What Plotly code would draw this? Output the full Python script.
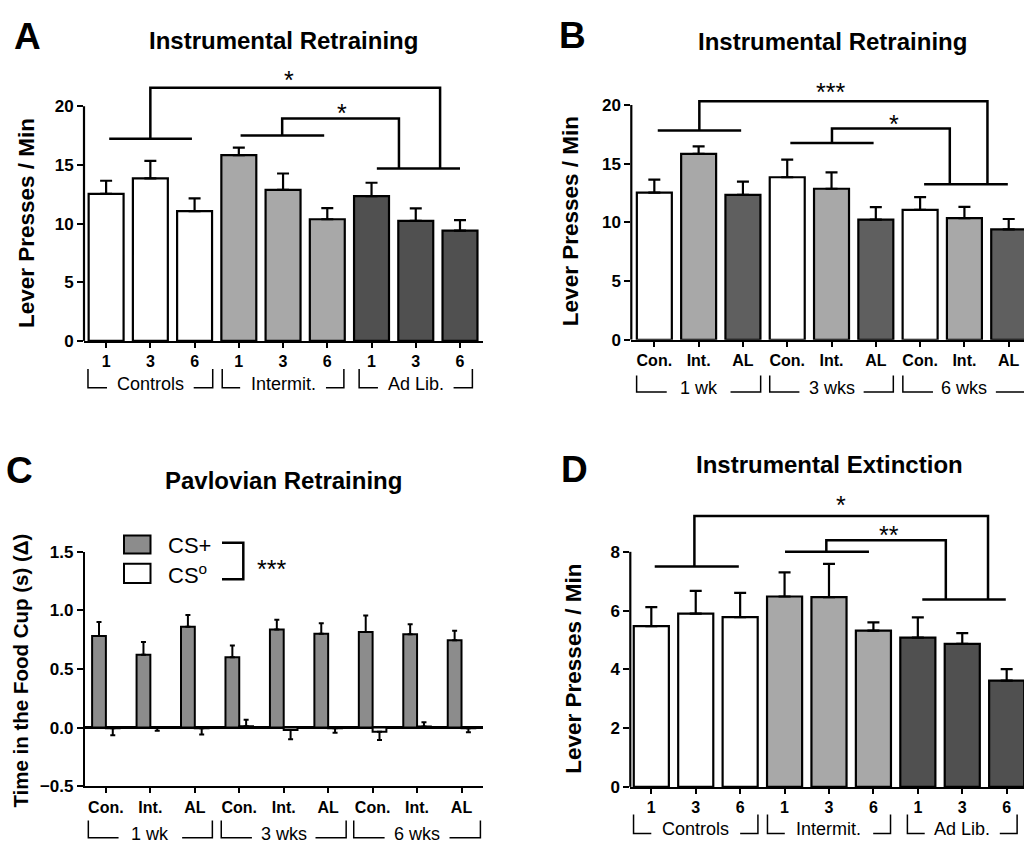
import plotly.graph_objects as go

W, H = 1024, 850
FONT = "Liberation Sans, Arial, sans-serif"

# ---------------- data ----------------
week_ticks = ["1", "3", "6"]
diet_groups = ["Controls", "Intermit.", "Ad Lib."]
diet_ticks = ["Con.", "Int.", "AL"]
week_groups = ["1 wk", "3 wks", "6 wks"]

# Instrumental retraining (lever presses / min), weeks 1, 3, 6
retrain_controls = [12.54, 13.85, 11.07]
retrain_intermit = [15.84, 12.87, 10.37]
retrain_adlib = [12.35, 10.24, 9.40]
retrain_controls_sem = [1.11, 1.50, 1.08]
retrain_intermit_sem = [0.64, 1.40, 0.95]
retrain_adlib_sem = [1.13, 1.06, 0.89]

# Pavlovian retraining (time in food cup, s, delta), order: 1wk Con/Int/AL, 3wk ..., 6wk ...
pav_csplus = [0.78, 0.62, 0.86, 0.60, 0.835, 0.80, 0.815, 0.795, 0.745]
pav_csplus_sem = [0.12, 0.11, 0.10, 0.10, 0.085, 0.09, 0.14, 0.085, 0.08]
pav_cso = [-0.005, -0.003, -0.005, 0.012, -0.02, -0.005, -0.035, 0.01, -0.005]
pav_cso_sem = [0.06, 0.025, 0.055, 0.055, 0.08, 0.04, 0.07, 0.035, 0.035]

# Instrumental extinction (lever presses / min), weeks 1, 3, 6
ext_controls = [5.47, 5.90, 5.78]
ext_intermit = [6.48, 6.46, 5.32]
ext_adlib = [5.08, 4.87, 3.62]
ext_controls_sem = [0.65, 0.77, 0.82]
ext_intermit_sem = [0.82, 1.13, 0.28]
ext_adlib_sem = [0.69, 0.36, 0.39]

# ---------------- styling / layout constants ----------------
WHITE, LIGHT, DARK, DARK_B, MID = "#ffffff", "#a8a8a8", "#505050", "#5f5f5f", "#8c8c8c"


def pxx(px):
    return px / W


def pxy(py):
    return 1 - py / H


def interleave(a, b, c):
    return [v for trip in zip(a, b, c) for v in trip]


fig = go.Figure()
shapes = []
annotations = []
pos = list(range(9))


def bar_trace(vals, sem, colors, xa, ya, width=0.79, cap=6):
    return go.Bar(
        x=pos, y=vals, width=width, xaxis=xa, yaxis=ya, showlegend=False,
        marker=dict(color=colors, line=dict(color="black", width=2.2)),
        error_y=dict(type="data", symmetric=False, array=sem, arrayminus=[0] * len(sem),
                     thickness=2.2, width=cap, color="black"),
    )


# Panel A
a_vals = retrain_controls + retrain_intermit + retrain_adlib
a_sem = retrain_controls_sem + retrain_intermit_sem + retrain_adlib_sem
fig.add_trace(bar_trace(a_vals, a_sem, [WHITE] * 3 + [LIGHT] * 3 + [DARK] * 3, "x", "y"))

# Panel B (same data arranged by week)
b_vals = interleave(retrain_controls, retrain_intermit, retrain_adlib)
b_sem = interleave(retrain_controls_sem, retrain_intermit_sem, retrain_adlib_sem)
fig.add_trace(bar_trace(b_vals, b_sem, [WHITE, LIGHT, DARK_B] * 3, "x2", "y2"))

# Panel C
cso_plus = [e if v >= 0 else 0 for v, e in zip(pav_cso, pav_cso_sem)]
cso_minus = [e if v < 0 else 0 for v, e in zip(pav_cso, pav_cso_sem)]
fig.add_trace(go.Bar(
    x=pos, y=pav_csplus, width=0.31, offset=-0.31, xaxis="x3", yaxis="y3", showlegend=False,
    marker=dict(color=MID, line=dict(color="black", width=2)),
    error_y=dict(type="data", symmetric=False, array=pav_csplus_sem, arrayminus=[0] * 9,
                 thickness=2, width=2.5, color="black")))
fig.add_trace(go.Bar(
    x=pos, y=pav_cso, width=0.31, offset=0.0, xaxis="x3", yaxis="y3", showlegend=False,
    marker=dict(color=WHITE, line=dict(color="black", width=2)),
    error_y=dict(type="data", symmetric=False, array=cso_plus, arrayminus=cso_minus,
                 thickness=2, width=2.5, color="black")))

# Panel D
d_vals = ext_controls + ext_intermit + ext_adlib
d_sem = ext_controls_sem + ext_intermit_sem + ext_adlib_sem
fig.add_trace(bar_trace(d_vals, d_sem, [WHITE] * 3 + [LIGHT] * 3 + [DARK] * 3, "x4", "y4"))

# ---------------- axes ----------------
xtickfont = dict(family=FONT, size=16, color="black", weight="bold")
ytickfont = dict(family=FONT, size=17, color="black", weight="bold")


def xaxis_cfg(dom_px, rng, ticktext, anchor):
    return dict(domain=[pxx(dom_px[0]), pxx(dom_px[1])], range=rng, anchor=anchor,
                tickmode="array", tickvals=pos, ticktext=ticktext, ticks="outside",
                ticklen=5, tickwidth=2, tickcolor="black", showline=True, linewidth=2.2,
                linecolor="black", showgrid=False, zeroline=False, tickfont=xtickfont,
                fixedrange=True)


def yaxis_cfg(dom_py, rng, tickvals, anchor, showline, zeroline=False, fmt=None):
    d = dict(domain=[pxy(dom_py[0]), pxy(dom_py[1])], range=rng, anchor=anchor,
             tickmode="array", tickvals=tickvals, ticks="outside", ticklen=6, tickwidth=2,
             tickcolor="black", showline=showline, linewidth=2.2, linecolor="black",
             showgrid=False, zeroline=zeroline, zerolinewidth=2.5, zerolinecolor="black",
             tickfont=ytickfont, fixedrange=True)
    if fmt:
        d["tickformat"] = fmt
    return d


wk_text = week_ticks * 3
diet_text = diet_ticks * 3

fig.update_layout(
    xaxis=xaxis_cfg([84, 483], [-0.5, 8.52], wk_text, "y"),
    yaxis=yaxis_cfg([339.5, 51.5], [0, 24], [0, 5, 10, 15, 20], "x", False),
    xaxis2=xaxis_cfg([631.3, 1024], [-0.52, 8.345], diet_text, "y2"),
    yaxis2=yaxis_cfg([338.3, 50.3], [0, 24], [0, 5, 10, 15, 20], "x2", False),
    xaxis3=xaxis_cfg([85, 483.3], [-0.47, 8.49], diet_text, "y3"),
    yaxis3=yaxis_cfg([795, 555], [-0.5, 1.5], [-0.5, 0, 0.5, 1.0, 1.5], "x3", True, True, ".1f"),
    xaxis4=xaxis_cfg([630.3, 1024], [-0.473, 8.39], wk_text, "y4"),
    yaxis4=yaxis_cfg([795.7, 483.1], [0, 10.4], [0, 2, 4, 6, 8], "x4", False),
)

# y-axis lines that stop at the top tick
for xd, ya, top in [("x domain", "y", 20), ("x2 domain", "y2", 20), ("x4 domain", "y4", 8)]:
    shapes.append(dict(type="line", xref=xd, yref=ya, x0=0, x1=0, y0=0, y1=top,
                       line=dict(color="black", width=2.2)))


# ---------------- significance brackets ----------------
def path_shape(pts, xref, yref, width=2.5):
    d = "M " + " L ".join(f"{x},{y}" for x, y in pts)
    shapes.append(dict(type="path", path=d, xref=xref, yref=yref,
                       line=dict(color="black", width=width)))


A_group_lines = [(0.07, 1.94, 17.23), (3.04, 4.93, 17.5), (6.12, 8.0, 14.7)]
A_connectors = [[(1.0, 17.23), (1.0, 21.57), (7.55, 21.57), (7.55, 14.7)],
                [(3.98, 17.5), (3.98, 18.96), (6.62, 18.96), (6.62, 14.7)]]
A_stars = [("*", 4.13, 22.73), ("*", 5.33, 19.96)]

B_group_lines = [(0.077, 1.96, 17.83), (3.07, 4.95, 16.78), (6.09, 7.98, 13.25)]
B_connectors = [[(1.016, 17.83), (1.016, 20.33), (7.52, 20.33), (7.52, 13.25)],
                [(4.01, 16.78), (4.01, 18.0), (6.67, 18.0), (6.67, 13.25)]]
B_stars = [("***", 3.98, 21.6), ("*", 5.42, 18.88)]

D_group_lines = [(0.077, 1.97, 7.5), (3.01, 4.90, 8.0), (6.10, 7.98, 6.38)]
D_connectors = [[(0.97, 7.5), (0.97, 9.22), (7.58, 9.22), (7.58, 6.38)],
                [(3.94, 8.0), (3.94, 8.39), (6.63, 8.39), (6.63, 6.38)]]
D_stars = [("*", 4.27, 9.81), ("**", 5.34, 8.77)]

for xa, ya, gl, conn, stars in [("x", "y", A_group_lines, A_connectors, A_stars),
                                ("x2", "y2", B_group_lines, B_connectors, B_stars),
                                ("x4", "y4", D_group_lines, D_connectors, D_stars)]:
    for x0, x1, yv in gl:
        path_shape([(x0, yv), (x1, yv)], xa, ya)
    for pts in conn:
        path_shape(pts, xa, ya)
    for txt, sx, sy in stars:
        annotations.append(dict(text=txt, x=sx, y=sy, xref=xa, yref=ya, showarrow=False,
                                xanchor="center", yanchor="middle", yshift=-6,
                                font=dict(family=FONT, size=25, color="black")))


# ---------------- group labels below x axes ----------------
def group_labels(xa, groups, top_py, bot_py, text_py):
    for c, txt, inner, outer in groups:
        yt, yb = pxy(top_py), pxy(bot_py)
        path_shape([(c - outer, yt), (c - outer, yb), (c - inner, yb)], xa, "paper", 1.5)
        path_shape([(c + inner, yb), (c + outer, yb), (c + outer, yt)], xa, "paper", 1.5)
        annotations.append(dict(text=txt, x=c, y=pxy(text_py), xref=xa, yref="paper",
                                showarrow=False, xanchor="center", yanchor="middle",
                                font=dict(family=FONT, size=18, color="black")))


group_labels("x", [(1, diet_groups[0], 0.98, 1.41), (4, diet_groups[1], 0.97, 1.375),
                   (7, diet_groups[2], 0.855, 1.28)], 368.3, 387.3, 384)
group_labels("x2", [(1, week_groups[0], 0.72, 1.40), (4, week_groups[1], 0.725, 1.395),
                    (7, week_groups[2], 0.71, 1.39)], 375, 391.7, 387.5)
group_labels("x3", [(1, week_groups[0], 0.715, 1.395), (4, week_groups[1], 0.715, 1.405),
                    (7, week_groups[2], 0.73, 1.425)], 830, 847.7, 843.5)
group_labels("x4", [(1, diet_groups[0], 1.0, 1.40), (4, diet_groups[1], 0.995, 1.385),
                    (7, diet_groups[2], 0.845, 1.235)], 824, 843.3, 839)


# ---------------- titles, letters, axis titles ----------------
def text_px(txt, x, y, size, bold=True, angle=0, xanchor="center"):
    annotations.append(dict(text=txt, x=pxx(x), y=pxy(y), xref="paper", yref="paper",
                            showarrow=False, xanchor=xanchor, yanchor="middle", textangle=angle,
                            font=dict(family=FONT, size=size, color="black",
                                      weight="bold" if bold else "normal")))


text_px("Instrumental Retraining", 283, 32, 24)
text_px("Instrumental Retraining", 832, 33, 24)
text_px("Pavlovian Retraining", 283.5, 482.5, 24)
text_px("Instrumental Extinction", 829, 465.5, 24)

text_px("A", 27, 28, 37)
text_px("B", 572, 27.5, 37)
text_px("C", 19.5, 472.5, 37)
text_px("D", 574.5, 471.5, 37)

text_px("Lever Presses / Min", 26, 219, 22.5, angle=-90)
text_px("Lever Presses / Min", 570.5, 217.5, 22.5, angle=-90)
text_px("Time in the Food Cup (s) (Δ)", 21, 676.7, 20.5, angle=-90)
text_px("Lever Presses / Min", 573.8, 675, 22.5, angle=-90)

# ---------------- panel C legend ----------------
shapes.append(dict(type="rect", xref="paper", yref="paper", x0=pxx(124), x1=pxx(150.5),
                   y0=pxy(557), y1=pxy(538.5), fillcolor=MID, line=dict(color="black", width=2)))
shapes.append(dict(type="rect", xref="paper", yref="paper", x0=pxx(124), x1=pxx(150.5),
                   y0=pxy(587), y1=pxy(567.5), fillcolor=WHITE, line=dict(color="black", width=2)))
text_px("CS+", 166, 549, 22, bold=False, xanchor="left")
text_px("CS<sup>o</sup>", 166, 578, 22, bold=False, xanchor="left")
path_shape([(pxx(222), pxy(546)), (pxx(243.3), pxy(546)), (pxx(243.3), pxy(583.3)),
            (pxx(222), pxy(583.3))], "paper", "paper", 2.5)
text_px("***", 271, 572.7, 25, bold=False)

fig.update_layout(
    width=W, height=H, margin=dict(l=0, r=0, t=0, b=0),
    paper_bgcolor="white", plot_bgcolor="white", showlegend=False,
    barmode="overlay", shapes=shapes, annotations=annotations,
    font=dict(family=FONT, color="black"),
)

fig.write_html("out.html")
